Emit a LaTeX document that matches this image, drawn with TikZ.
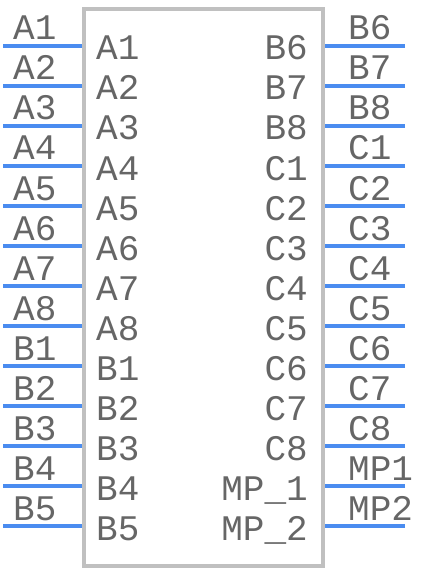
\documentclass[tikz,border=0pt]{standalone}
\usepackage{fontspec}
\newfontfamily\pinfont{Liberation Mono}
\usetikzlibrary{positioning}
\definecolor{pinblue}{RGB}{74,140,240}
\definecolor{boxgray}{RGB}{192,192,192}
\definecolor{labelgray}{RGB}{102,102,102}
\tikzset{
    pin/.style={draw=pinblue, line width=4pt},
    body/.style={draw=boxgray, line width=4pt},
    pinlabel/.style={text=labelgray, inner sep=0pt, font=\pinfont\fontsize{36}{36}\selectfont}
}

\begin{document}
\begin{tikzpicture}[x=1pt, y=-1pt]
    \useasboundingbox (0,0) rectangle (426,572);
    \draw[body] (84,9) rectangle (323,566);
    % left pins
    \coordinate (a1) at (3,46);   \coordinate (a1b) at (82,46);
    \coordinate (a2) at (3,86);   \coordinate (a2b) at (82,86);
    \coordinate (a3) at (3,126);  \coordinate (a3b) at (82,126);
    \coordinate (a4) at (3,166);  \coordinate (a4b) at (82,166);
    \coordinate (a5) at (3,206);  \coordinate (a5b) at (82,206);
    \coordinate (a6) at (3,246);  \coordinate (a6b) at (82,246);
    \coordinate (a7) at (3,286);  \coordinate (a7b) at (82,286);
    \coordinate (a8) at (3,326);  \coordinate (a8b) at (82,326);
    \coordinate (b1) at (3,366);  \coordinate (b1b) at (82,366);
    \coordinate (b2) at (3,406);  \coordinate (b2b) at (82,406);
    \coordinate (b3) at (3,446);  \coordinate (b3b) at (82,446);
    \coordinate (b4) at (3,486);  \coordinate (b4b) at (82,486);
    \coordinate (b5) at (3,526);  \coordinate (b5b) at (82,526);
    % right pins
    \coordinate (b6) at (405,46);   \coordinate (b6b) at (325,46);
    \coordinate (b7) at (405,86);   \coordinate (b7b) at (325,86);
    \coordinate (b8) at (405,126);  \coordinate (b8b) at (325,126);
    \coordinate (c1) at (405,166);  \coordinate (c1b) at (325,166);
    \coordinate (c2) at (405,206);  \coordinate (c2b) at (325,206);
    \coordinate (c3) at (405,246);  \coordinate (c3b) at (325,246);
    \coordinate (c4) at (405,286);  \coordinate (c4b) at (325,286);
    \coordinate (c5) at (405,326);  \coordinate (c5b) at (325,326);
    \coordinate (c6) at (405,366);  \coordinate (c6b) at (325,366);
    \coordinate (c7) at (405,406);  \coordinate (c7b) at (325,406);
    \coordinate (c8) at (405,446);  \coordinate (c8b) at (325,446);
    \coordinate (mp1) at (405,486); \coordinate (mp1b) at (325,486);
    \coordinate (mp2) at (405,526); \coordinate (mp2b) at (325,526);
    \draw[pin] (a1) -- (a1b);
    \draw[pin] (a2) -- (a2b);
    \draw[pin] (a3) -- (a3b);
    \draw[pin] (a4) -- (a4b);
    \draw[pin] (a5) -- (a5b);
    \draw[pin] (a6) -- (a6b);
    \draw[pin] (a7) -- (a7b);
    \draw[pin] (a8) -- (a8b);
    \draw[pin] (b1) -- (b1b);
    \draw[pin] (b2) -- (b2b);
    \draw[pin] (b3) -- (b3b);
    \draw[pin] (b4) -- (b4b);
    \draw[pin] (b5) -- (b5b);
    \draw[pin] (b6) -- (b6b);
    \draw[pin] (b7) -- (b7b);
    \draw[pin] (b8) -- (b8b);
    \draw[pin] (c1) -- (c1b);
    \draw[pin] (c2) -- (c2b);
    \draw[pin] (c3) -- (c3b);
    \draw[pin] (c4) -- (c4b);
    \draw[pin] (c5) -- (c5b);
    \draw[pin] (c6) -- (c6b);
    \draw[pin] (c7) -- (c7b);
    \draw[pin] (c8) -- (c8b);
    \draw[pin] (mp1) -- (mp1b);
    \draw[pin] (mp2) -- (mp2b);
    % pin numbers
    \tikzstyle{every node}=[pinlabel, anchor=base west];
    \node (na1) at (13,40) {A1};
    \node (na2) at (13,80) {A2};
    \node (na3) at (13,120) {A3};
    \node (na4) at (13,160) {A4};
    \node (na5) at (13,200) {A5};
    \node (na6) at (13,240) {A6};
    \node (na7) at (13,280) {A7};
    \node (na8) at (13,320) {A8};
    \node (nb1) at (13,360) {B1};
    \node (nb2) at (13,400) {B2};
    \node (nb3) at (13,440) {B3};
    \node (nb4) at (13,480) {B4};
    \node (nb5) at (13,520) {B5};
    \node (nb6) at (348,40) {B6};
    \node (nb7) at (348,80) {B7};
    \node (nb8) at (348,120) {B8};
    \node (nc1) at (348,160) {C1};
    \node (nc2) at (348,200) {C2};
    \node (nc3) at (348,240) {C3};
    \node (nc4) at (348,280) {C4};
    \node (nc5) at (348,320) {C5};
    \node (nc6) at (348,360) {C6};
    \node (nc7) at (348,400) {C7};
    \node (nc8) at (348,440) {C8};
    \node (nmp1) at (348,480) {MP1};
    \node (nmp2) at (348,520) {MP2};
    % pin names
    \node (sa1) at (96,60) {A1};
    \node (sa2) at (96,100) {A2};
    \node (sa3) at (96,140) {A3};
    \node (sa4) at (96,180) {A4};
    \node (sa5) at (96,220) {A5};
    \node (sa6) at (96,260) {A6};
    \node (sa7) at (96,300) {A7};
    \node (sa8) at (96,340) {A8};
    \node (sb1) at (96,380) {B1};
    \node (sb2) at (96,420) {B2};
    \node (sb3) at (96,460) {B3};
    \node (sb4) at (96,500) {B4};
    \node (sb5) at (96,540) {B5};
    \tikzstyle{every node}=[pinlabel, anchor=base east];
    \node (sb6) at (308,60) {B6};
    \node (sb7) at (308,100) {B7};
    \node (sb8) at (308,140) {B8};
    \node (sc1) at (308,180) {C1};
    \node (sc2) at (308,220) {C2};
    \node (sc3) at (308,260) {C3};
    \node (sc4) at (308,300) {C4};
    \node (sc5) at (308,340) {C5};
    \node (sc6) at (308,380) {C6};
    \node (sc7) at (308,420) {C7};
    \node (sc8) at (308,460) {C8};
    \node (smp1) at (308,500) {MP\_1};
    \node (smp2) at (308,540) {MP\_2};
\end{tikzpicture}
\end{document}
